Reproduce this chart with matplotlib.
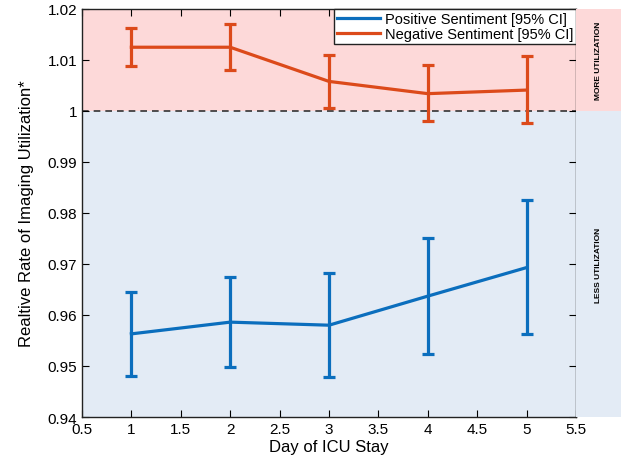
import matplotlib
matplotlib.use("Agg")
import matplotlib.pyplot as plt
import numpy as np
from matplotlib.lines import Line2D

plt.rcParams['font.family'] = ['Liberation Sans', 'DejaVu Sans']

days = [1, 2, 3, 4, 5]
pos_mean = [0.9563, 0.9586, 0.9580, 0.9637, 0.9693]
pos_upper = [0.9645, 0.9674, 0.9682, 0.9751, 0.9825]
pos_lower = [0.9481, 0.9498, 0.9479, 0.9524, 0.9563]
neg_mean = [1.0125, 1.0125, 1.0058, 1.0034, 1.0041]
neg_upper = [1.0163, 1.0171, 1.0110, 1.0090, 1.0108]
neg_lower = [1.0088, 1.0081, 1.0006, 0.9980, 0.9976]

xticks = [0.5, 1, 1.5, 2, 2.5, 3, 3.5, 4, 4.5, 5, 5.5]
xtick_labels = ['0.5', '1', '1.5', '2', '2.5', '3', '3.5', '4', '4.5', '5', '5.5']
yticks = [0.94, 0.95, 0.96, 0.97, 0.98, 0.99, 1.0, 1.01, 1.02]
ytick_labels = ['0.94', '0.95', '0.96', '0.97', '0.98', '0.99', '1', '1.01', '1.02']

pink = '#fdd9d9'
lblue = '#e3ebf5'
blue = '#0b6ebd'
orange = '#dc4a1a'

fig = plt.figure(figsize=(6.21, 4.60), dpi=100)
ax = fig.add_axes([0.132, 0.0913, 0.7955, 0.887])
ax.set_xlim(0.5, 5.5)
ax.set_ylim(0.94, 1.02)
ax.axhspan(1.0, 1.02, color=pink, zorder=0, lw=0)
ax.axhspan(0.94, 1.0, color=lblue, zorder=0, lw=0)
ax.axhline(1.0, color='#333333', ls=(0, (4, 3)), lw=1.2, zorder=1)

pm = np.array(pos_mean); nm = np.array(neg_mean)
ax.errorbar(days, pos_mean, yerr=[pm - np.array(pos_lower), np.array(pos_upper) - pm],
            color=blue, lw=2.3, elinewidth=2.3, capsize=4, capthick=2.3,
            label='Positive Sentiment [95% CI]', zorder=3)
ax.errorbar(days, neg_mean, yerr=[nm - np.array(neg_lower), np.array(neg_upper) - nm],
            color=orange, lw=2.3, elinewidth=2.3, capsize=4, capthick=2.3,
            label='Negative Sentiment [95% CI]', zorder=3)

ax.set_xticks(xticks)
ax.set_xticklabels(xtick_labels)
ax.set_yticks(yticks)
ax.set_yticklabels(ytick_labels)
ax.tick_params(direction='in', top=True, right=True, labelsize=11, length=5, width=0.8)
for s in ax.spines.values():
    s.set_color('#222222')
    s.set_linewidth(1.0)
ax.set_xlabel('Day of ICU Stay', fontsize=12, labelpad=2)
ax.set_ylabel('Realtive Rate of Imaging Utilization*', fontsize=12, labelpad=10)

handles, labels = ax.get_legend_handles_labels()
hl = [Line2D([], [], color=blue, lw=2.3), Line2D([], [], color=orange, lw=2.3)]
leg = ax.legend(hl, labels, loc='upper right', fontsize=10.5, fancybox=False,
                framealpha=1, edgecolor='#222222', borderpad=0.2, labelspacing=0.05,
                handlelength=3.0, handletextpad=0.3, borderaxespad=0.0)
leg.get_frame().set_linewidth(1.0)

ax2 = fig.add_axes([0.9275, 0.0913, 0.0725, 0.887])
ax2.set_xlim(0, 1)
ax2.set_ylim(0.94, 1.02)
ax2.axhspan(1.0, 1.02, color=pink, lw=0)
ax2.axhspan(0.94, 1.0, color=lblue, lw=0)
ax2.axis('off')
ax2.text(0.5, 1.01, 'MORE UTILIZATION', rotation=90, ha='center', va='center',
         fontsize=6, fontweight='bold')
ax2.text(0.5, 0.97, 'LESS UTILIZATION', rotation=90, ha='center', va='center',
         fontsize=6, fontweight='bold')

fig.savefig('out.png', dpi=100)
